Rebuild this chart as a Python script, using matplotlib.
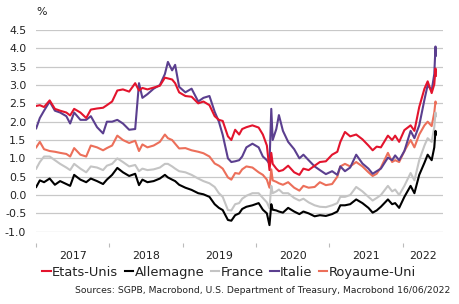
"""
Taux souverains a 10 ans - reproduction du graphique SGPB / Macrobond
"""
import matplotlib
matplotlib.use("Agg")
import matplotlib.pyplot as plt
import pandas as pd
import datetime as dt

plt.rcParams['font.family'] = ['DejaVu Sans']

# Dates des points
dates = [
    "2017-01-02", "2017-01-20", "2017-02-10", "2017-03-10", "2017-04-05", "2017-05-01",
    "2017-06-01", "2017-06-20", "2017-07-10", "2017-08-10", "2017-09-08", "2017-10-01",
    "2017-11-01", "2017-12-01", "2017-12-20", "2018-01-15", "2018-02-10", "2018-03-10",
    "2018-04-10", "2018-05-10", "2018-05-29", "2018-06-15", "2018-07-10", "2018-08-10",
    "2018-09-10", "2018-10-05", "2018-10-20", "2018-11-10", "2018-11-25", "2018-12-15",
    "2019-01-15", "2019-02-15", "2019-03-20", "2019-04-15", "2019-05-15", "2019-06-10",
    "2019-07-01", "2019-07-20", "2019-08-15", "2019-09-01", "2019-09-20", "2019-10-10",
    "2019-10-25", "2019-11-15", "2019-12-15", "2020-01-15", "2020-02-05", "2020-02-25",
    "2020-03-09", "2020-03-18", "2020-03-25", "2020-04-12", "2020-04-25", "2020-05-15",
    "2020-06-10", "2020-07-10", "2020-08-05", "2020-08-25", "2020-09-20", "2020-10-20",
    "2020-11-15", "2020-12-15", "2021-01-15", "2021-02-10", "2021-02-25", "2021-03-20",
    "2021-04-15", "2021-05-15", "2021-06-15", "2021-07-15", "2021-08-05", "2021-08-25",
    "2021-09-15", "2021-10-20", "2021-11-10", "2021-11-25", "2021-12-15", "2022-01-10",
    "2022-02-10", "2022-03-01", "2022-03-25", "2022-04-20", "2022-05-06", "2022-05-26",
    "2022-06-08", "2022-06-14", "2022-06-16",
]

etats_unis = [
    2.43, 2.45, 2.40, 2.58, 2.35, 2.30, 2.25, 2.17, 2.35, 2.25, 2.10, 2.33,
    2.36, 2.38, 2.45, 2.55, 2.85, 2.88, 2.82, 3.05, 2.85, 2.92, 2.88, 2.93,
    2.98, 3.20, 3.18, 3.15, 3.05, 2.80, 2.70, 2.68, 2.50, 2.55, 2.45, 2.15,
    2.05, 2.02, 1.60, 1.50, 1.78, 1.65, 1.80, 1.85, 1.90, 1.84, 1.65, 1.35,
    0.68, 1.15, 0.85, 0.72, 0.65, 0.68, 0.80, 0.62, 0.55, 0.72, 0.68, 0.80,
    0.90, 0.92, 1.10, 1.18, 1.45, 1.72, 1.60, 1.65, 1.52, 1.35, 1.22, 1.32,
    1.30, 1.62, 1.50, 1.62, 1.45, 1.77, 1.90, 1.75, 2.40, 2.90, 3.10, 2.78,
    3.02, 3.45, 3.25,
]

allemagne = [
    0.22, 0.40, 0.35, 0.45, 0.28, 0.38, 0.30, 0.25, 0.55, 0.42, 0.35, 0.45,
    0.38, 0.30, 0.42, 0.55, 0.74, 0.62, 0.52, 0.58, 0.27, 0.42, 0.35, 0.38,
    0.45, 0.55, 0.48, 0.42, 0.38, 0.28, 0.20, 0.14, 0.05, 0.02, -0.05, -0.25,
    -0.35, -0.41, -0.68, -0.70, -0.55, -0.50, -0.38, -0.32, -0.28, -0.22, -0.40, -0.50,
    -0.82, -0.25, -0.40, -0.42, -0.45, -0.48, -0.35, -0.45, -0.52, -0.45, -0.50, -0.58,
    -0.55, -0.57, -0.52, -0.45, -0.28, -0.28, -0.25, -0.12, -0.22, -0.35, -0.48, -0.42,
    -0.32, -0.12, -0.25, -0.22, -0.35, -0.05, 0.25, 0.05, 0.55, 0.88, 1.10, 0.95,
    1.30, 1.75, 1.65,
]

france = [
    0.72, 0.90, 1.05, 1.05, 0.95, 0.85, 0.75, 0.68, 0.85, 0.72, 0.62, 0.78,
    0.75, 0.68, 0.80, 0.85, 1.00, 0.90, 0.78, 0.82, 0.65, 0.72, 0.68, 0.70,
    0.75, 0.85, 0.85, 0.78, 0.72, 0.65, 0.62, 0.55, 0.45, 0.38, 0.32, 0.22,
    0.05, -0.05, -0.41, -0.42, -0.25, -0.22, -0.10, -0.02, 0.05, 0.05, -0.08, -0.20,
    -0.36, 0.25, 0.05, 0.10, 0.15, 0.05, 0.05, -0.08, -0.15, -0.10, -0.20, -0.28,
    -0.32, -0.33, -0.28, -0.22, -0.05, -0.05, 0.00, 0.22, 0.10, -0.05, -0.15, -0.08,
    0.00, 0.25, 0.10, 0.15, 0.00, 0.25, 0.60, 0.40, 0.95, 1.35, 1.55, 1.45,
    1.85, 2.25, 2.15,
]

italie = [
    1.82, 2.10, 2.30, 2.55, 2.30, 2.25, 2.15, 1.95, 2.25, 2.05, 2.05, 2.15,
    1.85, 1.68, 2.00, 2.00, 2.05, 1.95, 1.78, 1.80, 3.05, 2.65, 2.75, 2.90,
    3.00, 3.30, 3.63, 3.40, 3.55, 2.95, 2.80, 2.90, 2.55, 2.65, 2.70, 2.27,
    2.00, 1.64, 1.00, 0.90, 0.92, 0.95, 1.05, 1.30, 1.40, 1.30, 1.05, 0.95,
    0.85, 2.35, 1.50, 1.80, 2.18, 1.75, 1.45, 1.25, 1.00, 1.10, 0.95, 0.78,
    0.68, 0.57, 0.65, 0.55, 0.78, 0.65, 0.75, 1.10, 0.86, 0.72, 0.58, 0.65,
    0.72, 1.02, 0.95, 1.08, 0.95, 1.20, 1.75, 1.55, 1.90, 2.60, 3.00, 2.85,
    3.30, 4.05, 3.80,
]

royaume_uni = [
    1.30, 1.45, 1.25, 1.20, 1.18, 1.15, 1.12, 1.05, 1.28, 1.10, 1.05, 1.35,
    1.30, 1.22, 1.28, 1.35, 1.62, 1.50, 1.42, 1.48, 1.20, 1.38, 1.30, 1.35,
    1.45, 1.65, 1.55, 1.50, 1.40, 1.27, 1.28, 1.22, 1.18, 1.14, 1.05, 0.86,
    0.80, 0.72, 0.48, 0.42, 0.60, 0.58, 0.70, 0.78, 0.75, 0.62, 0.55, 0.42,
    0.20, 0.70, 0.40, 0.36, 0.32, 0.28, 0.35, 0.20, 0.12, 0.25, 0.20, 0.22,
    0.35, 0.27, 0.30, 0.50, 0.78, 0.85, 0.78, 0.90, 0.78, 0.62, 0.52, 0.58,
    0.75, 1.15, 0.90, 0.95, 0.90, 1.20, 1.50, 1.30, 1.65, 1.90, 2.00, 1.88,
    2.25, 2.55, 2.50,
]

series_names = ["Etats-Unis", "Allemagne", "France", "Italie", "Royaume-Uni"]
series_colors = ["#e3142d", "#000000", "#c4c4c4", "#5b3f8f", "#ec6f5a"]
y_ticks = [-1.0, -0.5, 0.0, 0.5, 1.0, 1.5, 2.0, 2.5, 3.0, 3.5, 4.0, 4.5]
years = [2017, 2018, 2019, 2020, 2021, 2022]

df = pd.DataFrame({
    "date": pd.to_datetime(dates),
    "Etats-Unis": etats_unis,
    "Allemagne": allemagne,
    "France": france,
    "Italie": italie,
    "Royaume-Uni": royaume_uni,
})

fig = plt.figure(figsize=(4.6, 3.04), dpi=100)
ax = fig.add_axes([0.0783, 0.2378, 0.885, 0.6635])

# first series drawn on top
for i, (name, color) in enumerate(zip(series_names, series_colors)):
    ax.plot(df["date"], df[name], color=color, lw=1.5, label=name, zorder=10 - i)

x_start = dt.datetime(2017, 1, 1)
x_end = dt.datetime(2022, 7, 22)
ax.set_xlim(x_start, x_end)
ax.set_ylim(-1.0, 4.5)

ax.set_yticks(y_ticks)
ax.set_yticklabels([f"{v:.1f}" for v in y_ticks])
ax.yaxis.grid(True, color="#c8c8c8", lw=0.9)
ax.set_axisbelow(True)
ax.tick_params(axis="y", length=0, pad=7, labelsize=7.9, labelcolor="#222222")

# year boundaries as small ticks, labels in the middle of each year
year_starts = [dt.datetime(y, 1, 1) for y in years]
label_pos = []
for y in years:
    a = dt.datetime(y, 1, 1)
    b = min(dt.datetime(y + 1, 1, 1), x_end)
    label_pos.append(a + (b - a) / 2)
ax.set_xticks(year_starts)
ax.set_xticklabels([])
ax.set_xticks(label_pos, minor=True)
ax.set_xticklabels([str(y) for y in years], minor=True)
ax.tick_params(axis="x", which="major", length=3, color="#bbbbbb", direction="out")
ax.tick_params(axis="x", which="minor", length=0, pad=6, labelsize=7.9, labelcolor="#222222")

for s in ["top", "right", "left"]:
    ax.spines[s].set_visible(False)
ax.spines["bottom"].set_position(("outward", 8))
ax.spines["bottom"].set_visible(False)

fig.text(0.078, 0.962, "%", fontsize=7.9, color="#222222", ha="left", va="center")

fig.legend(loc="center", bbox_to_anchor=(0.498, 0.105), ncol=5, frameon=False,
           handlelength=0.65, handletextpad=0.1, columnspacing=0.5,
           fontsize=9.4, labelcolor="#222222")

fig.text(0.978, 0.043, "Sources: SGPB, Macrobond, U.S. Department of Treasury, Macrobond 16/06/2022",
         fontsize=6.7, color="#222222", ha="right", va="center")

fig.savefig("out.png", dpi=100)
plt.close(fig)
